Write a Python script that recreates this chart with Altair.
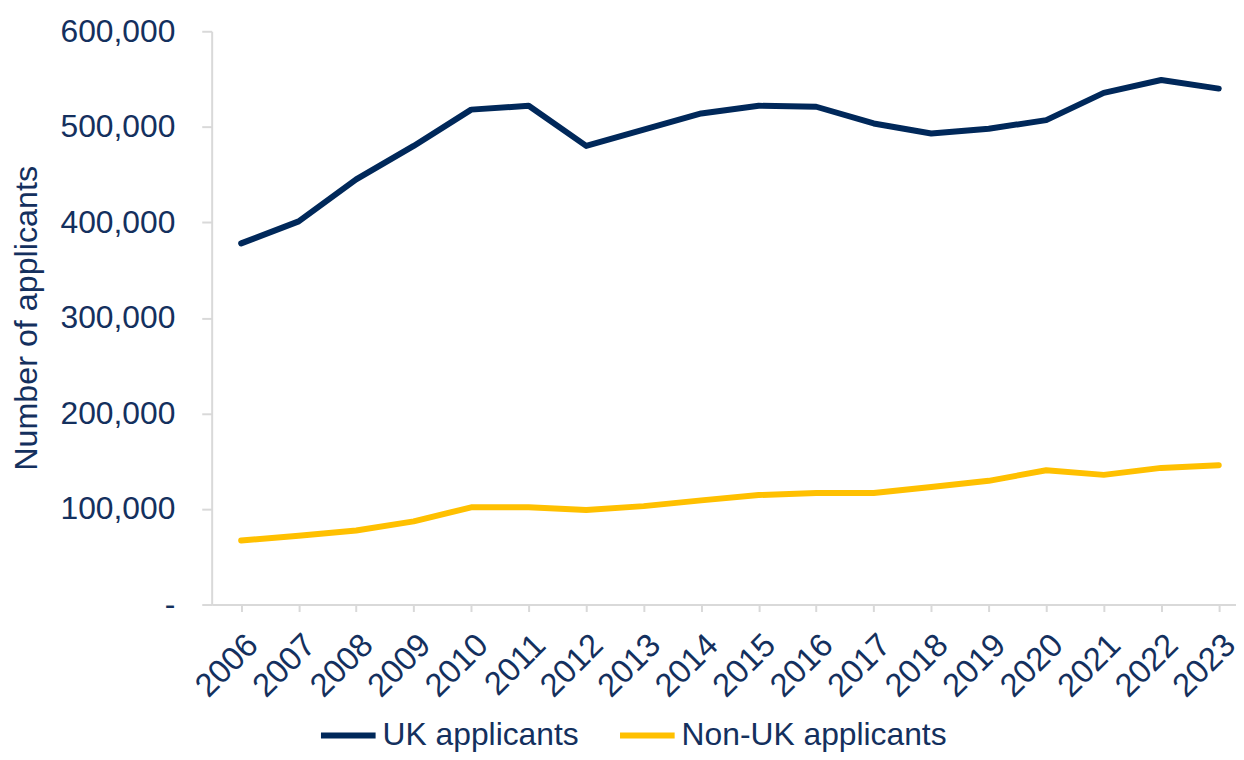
import altair as alt
import pandas as pd

years = list(range(2006, 2024))
uk_applicants = [378000, 401000, 445000, 480000, 518000, 522000, 480000, 497000, 514000,
                 522000, 521000, 503500, 493000, 498000, 507000, 535500, 549000, 540000]
non_uk_applicants = [67000, 72000, 77500, 87000, 101800, 101800, 99000, 103000, 109000,
                     114600, 116700, 116700, 123000, 129500, 140600, 135700, 143000, 145800]
series_names = ["UK applicants", "Non-UK applicants"]
series_colors = ["#00285A", "#FFC000"]
y_ticks = [0, 100000, 200000, 300000, 400000, 500000, 600000]

rows = []
for name, vals in zip(series_names, [uk_applicants, non_uk_applicants]):
    for yr, v in zip(years, vals):
        rows.append({"Year": yr, "Applicants": v, "Series": name})
df = pd.DataFrame(rows)

TEXT = "#14305E"

chart = alt.Chart(df).mark_line(strokeWidth=6, strokeCap="round", strokeJoin="round").encode(
    x=alt.X("Year:Q",
            scale=alt.Scale(domain=[2005.487, 2023.30], nice=False, zero=False),
            axis=alt.Axis(values=years, format="d", title=None, grid=False,
                          labelAngle=-45, labelAlign="right", labelBaseline="top",
                          labelFontSize=33, labelColor=TEXT, labelPadding=17,
                          labelFont="Liberation Sans", labelOverlap=False,
                          tickSize=7, tickColor="#D9D9D9", tickWidth=2,
                          domainColor="#D9D9D9", domainWidth=2)),
    y=alt.Y("Applicants:Q",
            scale=alt.Scale(domain=[0, 600000], nice=False),
            axis=alt.Axis(values=y_ticks, grid=False, title="Number of applicants",
                          labelExpr="datum.value == 0 ? '-\u00a0\u00a0' : format(datum.value, ',')",
                          labelFontSize=32, labelColor=TEXT, labelPadding=27,
                          labelFont="Liberation Sans",
                          tickSize=10, tickColor="#D9D9D9", tickWidth=2,
                          domainColor="#D9D9D9", domainWidth=2,
                          titleFontSize=32.5, titleColor=TEXT, titleFontWeight="normal",
                          titleFont="Liberation Sans",
                          titleAngle=-90, titleAlign="center", titleBaseline="middle",
                          titleX=-186, titleY=288.5)),
    color=alt.Color("Series:N",
                    scale=alt.Scale(domain=series_names, range=series_colors),
                    sort=series_names,
                    legend=alt.Legend(title=None, orient="none", direction="horizontal",
                                      legendX=107, legendY=678,
                                      symbolType="stroke", symbolSize=3025,
                                      symbolStrokeWidth=6, labelOffset=4,
                                      columnPadding=29, padding=0, labelLimit=500,
                                      labelFontSize=32, labelColor=TEXT,
                                      labelFont="Liberation Sans")),
).properties(
    width=1031,
    height=577,
    autosize=alt.AutoSizeParams(type="none"),
    padding={"left": 205, "top": 21, "right": 0, "bottom": 146},
).configure_view(stroke=None)

chart.save("out.html", embed_options={"renderer": "svg", "actions": False})
